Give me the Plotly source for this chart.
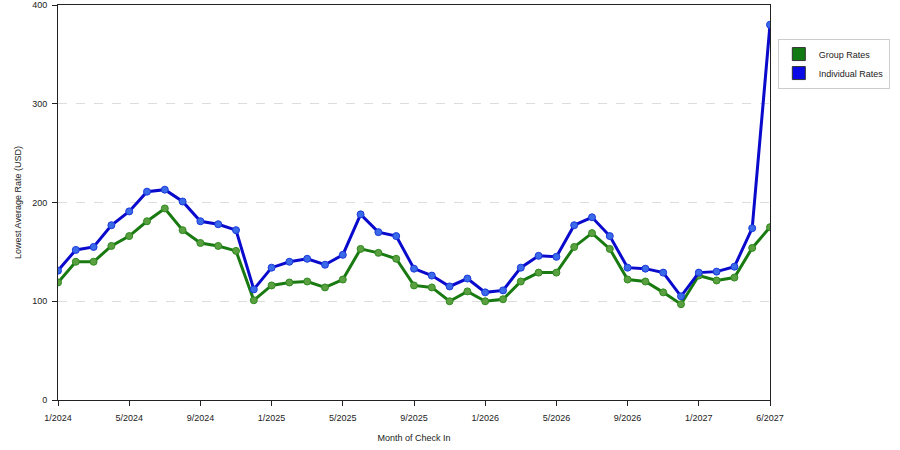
import plotly.graph_objects as go

# Monthly check-in index (41 points) with labels every 4 months
month_index = list(range(41))
tick_positions = [0, 4, 8, 12, 16, 20, 24, 28, 32, 36, 40]
tick_labels = ["1/2024", "5/2024", "9/2024", "1/2025", "5/2025", "9/2025",
               "1/2026", "5/2026", "9/2026", "1/2027", "6/2027"]

group_rates = [119, 140, 140, 156, 166, 181, 194, 172, 159, 156, 151, 101,
               116, 119, 120, 114, 122, 153, 149, 143, 116, 114, 100, 110,
               100, 102, 120, 129, 129, 155, 169, 153, 122, 120, 109, 97,
               126, 121, 124, 154, 175]
individual_rates = [131, 152, 155, 177, 191, 211, 213, 201, 181, 178, 172, 112,
                    134, 140, 143, 137, 147, 188, 170, 166, 133, 126, 115, 123,
                    109, 111, 134, 146, 145, 177, 185, 166, 134, 133, 129, 105,
                    129, 130, 135, 174, 380]

series = [
    ("Group Rates", group_rates, "#1a7a12", "#5aa040", "#2f8a20", "#127a12"),
    ("Individual Rates", individual_rates, "#0a0acc", "#3a6ae8", "#1a3adc", "#0a0ae6"),
]

font = dict(family="Liberation Sans, Arial, sans-serif", size=10, color="#222")

fig = go.Figure()

for name, values, line_col, mk_col, mk_edge, swatch in series:
    fig.add_trace(go.Scatter(
        x=month_index, y=values, mode="lines+markers", name=name,
        showlegend=False,
        line=dict(color=line_col, width=3),
        marker=dict(size=7, color=mk_col, line=dict(color=mk_edge, width=1))
    ))

# square swatches for the legend only
for name, values, line_col, mk_col, mk_edge, swatch in series:
    fig.add_trace(go.Scatter(
        x=[None], y=[None], mode="markers", name=name,
        marker=dict(symbol="square", size=13, color=swatch,
                    line=dict(color="#333", width=1))
    ))

fig.update_layout(
    width=900, height=450,
    margin=dict(l=58, r=130, t=5, b=50, autoexpand=False),
    paper_bgcolor="white", plot_bgcolor="white",
    font=font,
    showlegend=True,
    legend=dict(
        x=1.011, y=0.915, xanchor="left", yanchor="top",
        bordercolor="#cccccc", borderwidth=1, bgcolor="white",
        font=dict(family="Liberation Sans, Arial, sans-serif", size=9, color="#222"),
        itemwidth=30, tracegroupgap=2,
    ),
)

fig.update_xaxes(
    range=[0, 40], tickmode="array", tickvals=tick_positions, ticktext=tick_labels,
    ticks="outside", ticklen=5, tickcolor="#222", ticklabelstandoff=4,
    showgrid=False, zeroline=False,
    showline=True, linecolor="#222", linewidth=1, mirror=True, automargin=False,
    tickfont=dict(size=9),
    title=dict(text="Month of Check In", font=dict(size=9), standoff=12),
)
fig.update_yaxes(
    range=[0, 400], tickvals=[0, 100, 200, 300, 400],
    ticks="outside", ticklen=5, tickcolor="#222", ticklabeloverflow="allow",
    ticklabelstandoff=3,
    showgrid=True, gridcolor="#dddddd", griddash="dash", gridwidth=1, zeroline=False,
    showline=True, linecolor="#222", linewidth=1, mirror=True, automargin=False,
    tickfont=dict(size=9),
    title=dict(text="Lowest Average Rate (USD)", font=dict(size=9), standoff=9),
)

# drop the default page margin so the figure sits at the window's corner
fig.write_html("out.html", config={"displayModeBar": False},
               post_script="document.body.style.margin='0';")
